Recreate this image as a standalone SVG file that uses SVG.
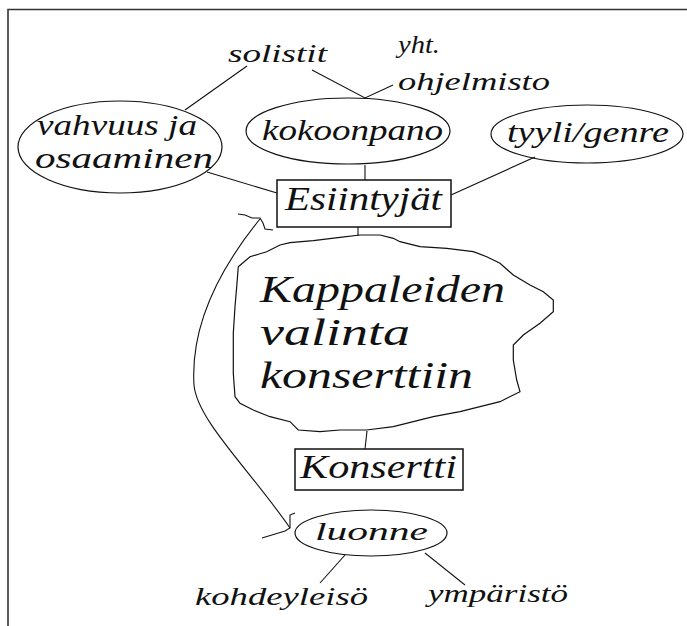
<svg xmlns="http://www.w3.org/2000/svg" width="687" height="626" viewBox="0 0 687 626">
<style>
.t{font-family:"Liberation Serif","DejaVu Serif",serif;font-style:italic;fill:#111;}
.s{font-size:26px;}
.m{font-size:29px;}
.b{font-size:33px;}
.xl{font-size:38px;}
.shape{fill:none;stroke:#111;stroke-width:1.2;}
.box{fill:#fff;stroke:#111;stroke-width:1.5;}
.ln{fill:none;stroke:#111;stroke-width:1.1;}
</style>
<rect x="0" y="0" width="687" height="626" fill="#fff"/>
<path d="M8,626 V9.5 H687" fill="none" stroke="#333" stroke-width="1.6"/>
<g id="connectors">
<path class="ln" d="M247,66 L185,110"/>
<path class="ln" d="M312,70 L365,98 L393,85"/>
<path class="ln" d="M207,172 L277,193"/>
<path class="ln" d="M535,157 L451,195"/>
<path class="ln" d="M365,165 V180"/>
<path class="ln" d="M358,227 V236"/>
<path class="ln" d="M367,431 L365,449"/>
<path class="ln" d="M345,555 L320,583"/>
<path class="ln" d="M425,553 L465,585"/>
<path class="ln" d="M260,219 C225,262 190,320 194,385 C197,420 250,470 290,528"/>
<path class="ln" d="M238,214 L245,215 L252,218 L260,218 L263,223 L265,229 L273,230"/>
<path class="ln" d="M262,538 L285,531 L290,528 L290,515 L295,513"/>
</g>
<g id="solistit"><text class="t s" x="228" y="62" textLength="99" lengthAdjust="spacingAndGlyphs">solistit</text></g>
<g id="yht-ohjelmisto">
<text class="t s" x="398" y="53" textLength="42" lengthAdjust="spacingAndGlyphs">yht.</text>
<text class="t s" x="398" y="90" textLength="152" lengthAdjust="spacingAndGlyphs">ohjelmisto</text>
</g>
<g id="vahvuus">
<ellipse class="shape" cx="120" cy="147" rx="102" ry="46"/>
<text class="t m" x="37" y="135" textLength="160" lengthAdjust="spacingAndGlyphs">vahvuus ja</text>
<text class="t m" x="35" y="168" textLength="178" lengthAdjust="spacingAndGlyphs">osaaminen</text>
</g>
<g id="kokoonpano">
<ellipse class="shape" cx="348" cy="131" rx="102" ry="33"/>
<text class="t m" x="262" y="140" textLength="181" lengthAdjust="spacingAndGlyphs">kokoonpano</text>
</g>
<g id="tyyli">
<ellipse class="shape" cx="587" cy="134" rx="96" ry="29"/>
<text class="t m" x="507" y="142" textLength="162" lengthAdjust="spacingAndGlyphs">tyyli/genre</text>
</g>
<g id="esiintyjat">
<rect class="box" x="277" y="180" width="174" height="47"/>
<text class="t b" x="285" y="210" textLength="157" lengthAdjust="spacingAndGlyphs">Esiintyjät</text>
</g>
<g id="valinta">
<path class="shape" d="M238.3,266.7 L250,256.7 L266.7,251.7 L280,245 L290,242.7 L313.3,240.7 L340,237.3 L360,235 L380,235 L393.3,238.3 L400,241.7 L420,246.7 L446.7,248.3 L473.3,251.7 L486.7,256.7 L500,263.3 L513.3,275 L530,285 L543.3,291.7 L553.3,300 L553.3,311.7 L540,323.3 L523.3,335 L513.3,345 L513.3,360 L516.7,380 L520,391.7 L500,401.7 L480,406.7 L460,411.7 L433.3,416.7 L413.3,421.7 L393.3,426.7 L366.7,430 L340,430 L320,431.7 L298.3,430 L290,421.7 L270,416.7 L253.3,410 L240,403.3 L235,396.7 L233.3,373.3 L233.3,353.3 L233.3,333.3 L235,306.7 L236.7,286.7 Z"/>
<text class="t xl" x="260" y="302" textLength="245" lengthAdjust="spacingAndGlyphs">Kappaleiden</text>
<text class="t xl" x="260" y="345" textLength="150" lengthAdjust="spacingAndGlyphs">valinta</text>
<text class="t xl" x="260" y="388" textLength="213" lengthAdjust="spacingAndGlyphs">konserttiin</text>
</g>
<g id="konsertti">
<rect class="box" x="295" y="449" width="168" height="41"/>
<text class="t b" x="300" y="478" textLength="157" lengthAdjust="spacingAndGlyphs">Konsertti</text>
</g>
<g id="luonne">
<ellipse class="shape" cx="371" cy="533" rx="76" ry="23"/>
<text class="t s" x="315" y="540" textLength="113" lengthAdjust="spacingAndGlyphs">luonne</text>
</g>
<g id="kohdeyleiso"><text class="t s" x="195" y="605" textLength="173" lengthAdjust="spacingAndGlyphs">kohdeyleisö</text></g>
<g id="ymparisto"><text class="t s" x="428" y="602" textLength="140" lengthAdjust="spacingAndGlyphs">ympäristö</text></g>
</svg>
